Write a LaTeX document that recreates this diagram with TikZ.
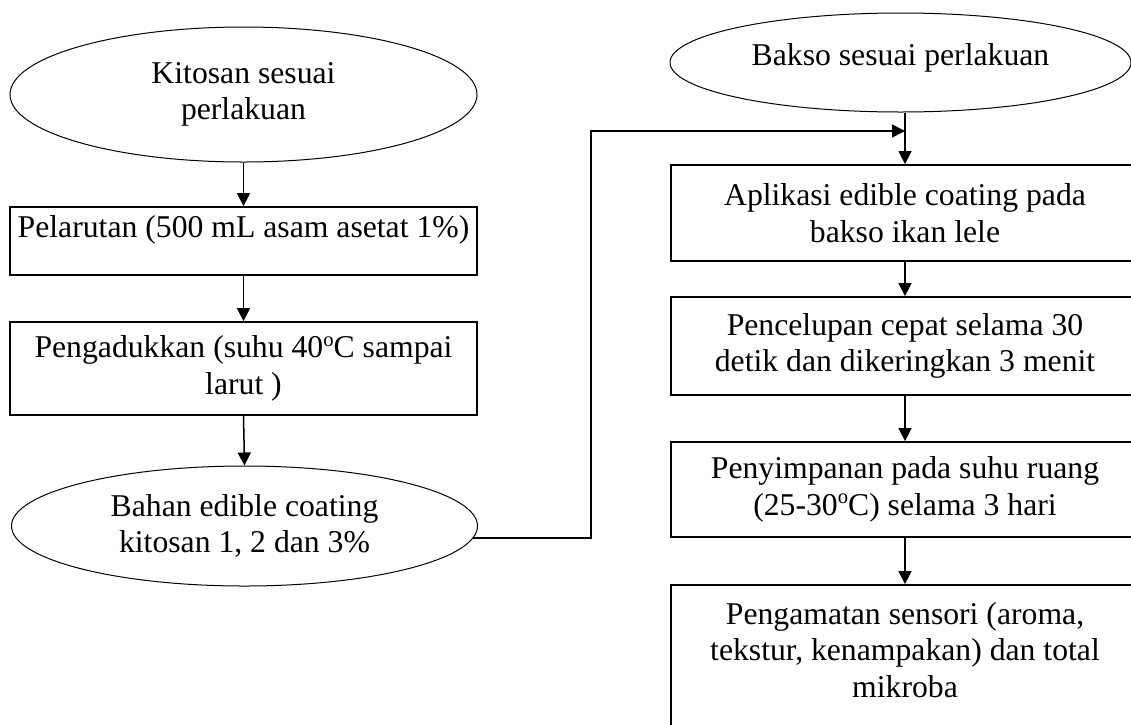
\documentclass[tikz,border=0pt]{standalone}
\usepackage{fontspec}
\setmainfont{Liberation Serif}
\usetikzlibrary{shapes.geometric,arrows.meta}
\newcommand\degsup{\raisebox{11.5pt}{\fontsize{20.6}{20}\selectfont o}}
\begin{document}
\begin{tikzpicture}[x=1pt,y=-1pt,
  font=\fontsize{31.7}{36.7}\selectfont,
  box/.style={draw, line width=1.8pt, minimum width=467pt, inner sep=0pt, align=center},
  wbox/.style={box, minimum width=468pt},
  oval/.style={ellipse, draw, line width=1pt, inner sep=0pt, align=center},
  txt/.style={inner sep=0pt, align=center},
  arr/.style={line width=1.5pt, -{Triangle[length=13pt,width=13pt]}}]
\useasboundingbox (0,0) rectangle (1131,724);
\clip (0,0) rectangle (1131,724);

% left column
\node[oval, minimum width=467pt, minimum height=135pt] (e1) at (243.5,94.5) {Kitosan sesuai\\perlakuan};
\node[box, minimum height=68pt] (r1) at (243.5,241) {};
\node[txt, anchor=base] (r1t) at (243.5,237) {Pelarutan (500 mL asam asetat 1\%)};
\node[box, minimum height=93pt] (r2) at (243.5,368.5) {Pengadukkan (suhu 40\degsup C sampai\\larut )};
\node[oval, minimum width=466pt, minimum height=120pt] (e2) at (244.5,526) {Bahan edible coating\\kitosan 1, 2 dan 3\%};

% right column
\node[oval, minimum width=461pt, minimum height=99pt, text depth=17pt] (e3) at (900.5,62.5) {Bakso sesuai perlakuan};
\node[wbox, minimum height=96pt] (a1) at (905,213) {Aplikasi edible coating pada\\bakso ikan lele};
\node[wbox, minimum height=98pt] (a2) at (905,346) {Pencelupan cepat selama 30\\detik dan dikeringkan 3 menit};
\node[wbox, minimum height=95pt] (a3) at (905,489.5) {Penyimpanan pada suhu ruang\\(25-30\degsup C) selama 3 hari};
\node[wbox, minimum height=150pt] (a4) at (905,660) {};
\node[txt, anchor=north] (a4t) at (905,602) {Pengamatan sensori (aroma,\\tekstur, kenampakan) dan total\\mikroba};

\coordinate (j) at (905,131);

% connectors
\draw[arr] (e1.south) -- (r1.north);
\draw[arr] (r1.south) -- (r2.north);
\draw[arr] (r2.south) -- (e2.north);
\draw[arr] (e2.-3) -- ++(117.5,0) |- (j);
\draw[arr] (a1.north |- e3.south) -- (a1.north);
\draw[arr] (a1.south) -- (a2.north);
\draw[arr] (a2.south) -- (a3.north);
\draw[arr] (a3.south) -- (a4.north);
\end{tikzpicture}
\end{document}
